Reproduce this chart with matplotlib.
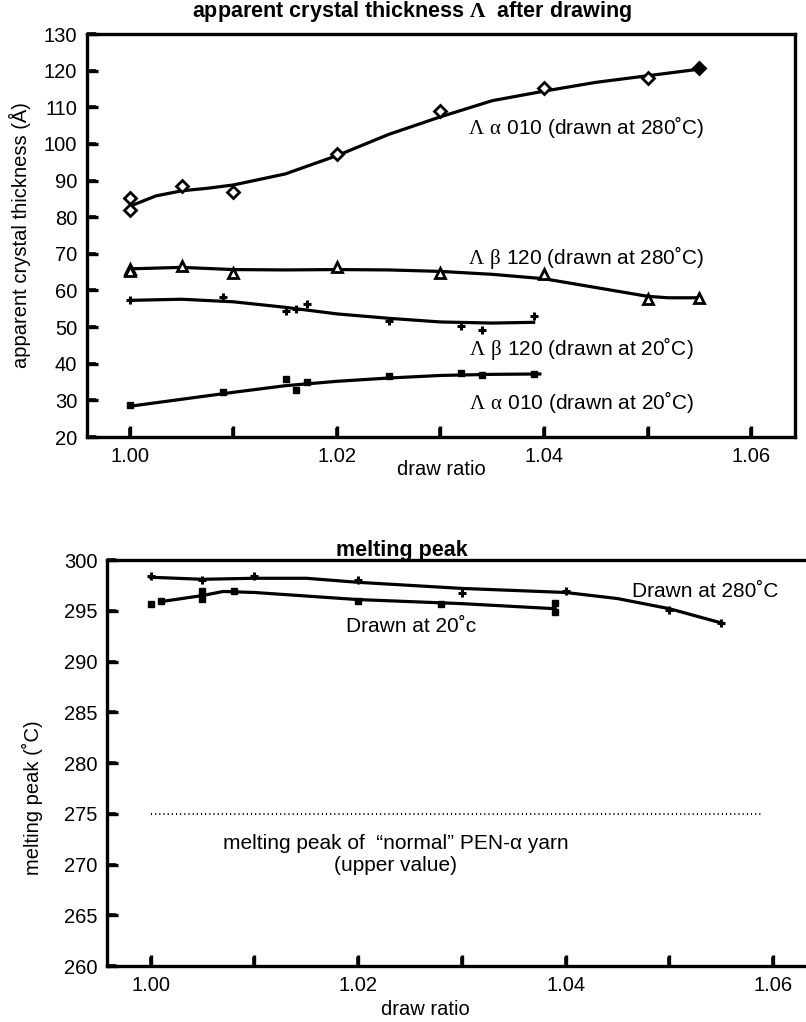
import matplotlib
matplotlib.use("Agg")
import matplotlib.pyplot as plt
import matplotlib.transforms as mtransforms

plt.rcParams['font.family'] = ['Liberation Sans', 'DejaVu Sans']
plt.rcParams['mathtext.fontset'] = 'custom'
plt.rcParams['mathtext.rm'] = 'Liberation Serif'
plt.rcParams['mathtext.bf'] = 'Liberation Serif:bold'

# ---- top panel: apparent crystal thickness ----
a280_x = [1.000, 1.000, 1.005, 1.010, 1.020, 1.030, 1.040, 1.050]
a280_y = [85.1, 81.9, 88.5, 87.0, 97.3, 109.0, 115.2, 118.0]
a280_last = (1.055, 120.6)
a280_fit_x = [1.000, 1.0025, 1.005, 1.0075, 1.010, 1.015, 1.020, 1.025, 1.030, 1.035, 1.040, 1.045, 1.050, 1.055]
a280_fit_y = [83.0, 85.8, 87.2, 87.9, 88.8, 91.8, 96.8, 102.6, 107.4, 111.8, 114.4, 116.8, 118.6, 120.4]

b280_x = [1.000, 1.000, 1.005, 1.010, 1.020, 1.030, 1.040, 1.050, 1.055]
b280_y = [65.9, 65.3, 66.6, 64.8, 66.4, 64.8, 64.6, 57.7, 58.0]
b280_fit_x = [1.000, 1.005, 1.010, 1.015, 1.020, 1.025, 1.030, 1.035, 1.040, 1.045, 1.050, 1.052, 1.055]
b280_fit_y = [65.9, 66.3, 65.7, 65.6, 65.7, 65.6, 65.2, 64.4, 63.2, 60.8, 58.4, 58.0, 58.0]

b20_x = [1.000, 1.009, 1.0151, 1.016, 1.0171, 1.025, 1.032, 1.034, 1.039]
b20_y = [57.5, 58.2, 54.3, 54.9, 56.3, 51.7, 50.4, 49.3, 53.1]
b20_fit_x = [1.000, 1.005, 1.010, 1.015, 1.020, 1.025, 1.030, 1.035, 1.039]
b20_fit_y = [57.3, 57.6, 56.9, 55.4, 53.6, 52.4, 51.4, 51.1, 51.3]

a20_x = [1.000, 1.009, 1.0151, 1.016, 1.0171, 1.025, 1.032, 1.034, 1.039]
a20_y = [28.8, 32.4, 35.8, 32.9, 35.1, 36.7, 37.6, 37.0, 37.2]
a20_fit_x = [1.000, 1.005, 1.010, 1.015, 1.020, 1.025, 1.030, 1.035, 1.0396]
a20_fit_y = [28.4, 30.3, 32.2, 34.0, 35.2, 36.1, 36.8, 37.1, 37.2]

# ---- bottom panel: melting peak ----
m280_x = [1.000, 1.005, 1.010, 1.020, 1.030, 1.040, 1.050, 1.055]
m280_y = [298.4, 298.0, 298.4, 298.0, 296.7, 296.9, 295.1, 293.8]
m280_fit_x = [1.000, 1.005, 1.010, 1.015, 1.020, 1.030, 1.040, 1.045, 1.050, 1.055]
m280_fit_y = [298.3, 298.1, 298.2, 298.2, 297.8, 297.2, 296.8, 296.2, 295.2, 293.8]

m20_x = [1.000, 1.001, 1.005, 1.005, 1.008, 1.020, 1.028, 1.039, 1.039]
m20_y = [295.7, 296.0, 296.9, 296.2, 296.9, 296.0, 295.7, 295.8, 294.9]
m20_fit_x = [1.001, 1.005, 1.007, 1.010, 1.020, 1.030, 1.039]
m20_fit_y = [295.9, 296.5, 296.9, 296.8, 296.1, 295.7, 295.2]

normal_peak = 275
normal_x = [1.000, 1.059]

x_ticks = [1.00, 1.01, 1.02, 1.03, 1.04, 1.05, 1.06]
x_ticklabels = ['1.00', '', '1.02', '', '1.04', '', '1.06']
top_yticks = [20, 30, 40, 50, 60, 70, 80, 90, 100, 110, 120, 130]
bot_yticks = [260, 265, 270, 275, 280, 285, 290, 295, 300]

fig = plt.figure(figsize=(8.06, 10.22), dpi=100)


def style(ax, yticks):
    for s in ax.spines.values():
        s.set_linewidth(2.4)
    ax.set_xticks(x_ticks)
    ax.set_xticklabels(x_ticklabels)
    ax.set_yticks(yticks)
    ax.tick_params(direction='in', length=8, width=2.4, labelsize=14.5, pad=7,
                   bottom=True, left=True, top=False, right=False)


def draw_ticks(ax, yticks, ax_w_px, ax_h_px):
    # inward tick marks drawn explicitly so they always show
    tx = mtransforms.blended_transform_factory(ax.transData, ax.transAxes)
    ty = mtransforms.blended_transform_factory(ax.transAxes, ax.transData)
    ax.vlines(x_ticks, 0, 9 / ax_h_px, colors='k', lw=2.6, transform=tx,
              clip_on=False, zorder=5)
    ax.hlines(yticks, 0, 9 / ax_w_px, colors='k', lw=2.6, transform=ty,
              clip_on=False, zorder=5)


# top
ax1 = fig.add_axes([87/806, 1-437/1022, 708/806, 403/1022])
ax1.set_xlim(0.99585, 1.06425)
ax1.set_ylim(20, 130)
style(ax1, top_yticks)

lw = 2.3
ax1.plot(a280_fit_x, a280_fit_y, 'k-', lw=lw)
ax1.plot(a280_x, a280_y, 'D', ms=6.5, mfc='white', mec='k', mew=2)
ax1.plot(*a280_last, 'D', ms=6.5, mfc='k', mec='k', mew=2)
ax1.plot(b280_fit_x, b280_fit_y, 'k-', lw=lw)
ax1.plot(b280_x, b280_y, '^', ms=7, mfc='white', mec='k', mew=2)
ax1.plot(b20_fit_x, b20_fit_y, 'k-', lw=lw)
ax1.plot(b20_x, b20_y, '+', ms=6, mec='k', mew=2.2)
ax1.plot(a20_fit_x, a20_fit_y, 'k-', lw=lw)
ax1.plot(a20_x, a20_y, 's', ms=4.5, mfc='k', mec='k')

fs = 15
ax1.text(1.0327, 104.5, r'$\mathrm{\Lambda\ \alpha}$ 010 (drawn at 280˚C)', fontsize=fs, va='center')
ax1.text(1.0327, 69.0, r'$\mathrm{\Lambda\ \beta}$ 120 (drawn at 280˚C)', fontsize=fs, va='center')
ax1.text(1.0328, 44.1, r'$\mathrm{\Lambda\ \beta}$ 120 (drawn at 20˚C)', fontsize=fs, va='center')
ax1.text(1.0328, 29.6, r'$\mathrm{\Lambda\ \alpha}$ 010 (drawn at 20˚C)', fontsize=fs, va='center')

ax1.set_xlabel('draw ratio', fontsize=14.5, labelpad=-4)
ax1.set_ylabel('apparent crystal thickness (Å)', fontsize=14.5)
ax1.yaxis.set_label_coords((31-87)/708, 0.5)
fig.text(412/806, 1-12/1022, r'apparent crystal thickness $\mathbf{\Lambda}$  after drawing',
         fontsize=15.5, fontweight='bold', ha='center', va='center')

# bottom
ax2 = fig.add_axes([107/806, 1-966/1022, 715/806, 406/1022])
ax2.set_xlim(0.9958, 1.0647)
ax2.set_ylim(260, 300)
style(ax2, bot_yticks)
ax2.spines['right'].set_visible(False)

ax2.plot(m280_fit_x, m280_fit_y, 'k-', lw=lw)
ax2.plot(m280_x, m280_y, '+', ms=6, mec='k', mew=2.2)
ax2.plot(m20_fit_x, m20_fit_y, 'k-', lw=lw)
ax2.plot(m20_x, m20_y, 's', ms=4.5, mfc='k', mec='k')
ax2.plot(normal_x, [normal_peak, normal_peak], color='k', lw=1.5, ls=(0, (0.5, 1.5)))

ax2.text(1.0464, 296.85, 'Drawn at 280˚C', fontsize=fs, va='center')
ax2.text(1.0188, 293.4, 'Drawn at 20˚c', fontsize=fs, va='center')
ax2.text(1.0236, 271.0, 'melting peak of  “normal” PEN-α yarn\n(upper value)',
         fontsize=fs, ha='center', va='center', linespacing=1.2)

ax2.set_xlabel('draw ratio', fontsize=14.5)
ax2.xaxis.set_label_coords((425-107)/715, -34/406)
ax2.set_ylabel('melting peak (˚C)', fontsize=14.5)
ax2.yaxis.set_label_coords((43-107)/715, 1-(798-560)/406)
fig.text(402/806, 1-550/1022, 'melting peak', fontsize=15.5, fontweight='bold',
         ha='center', va='center')

draw_ticks(ax1, top_yticks, 708, 403)
draw_ticks(ax2, bot_yticks, 715, 406)

fig.savefig('out.png', dpi=100)
